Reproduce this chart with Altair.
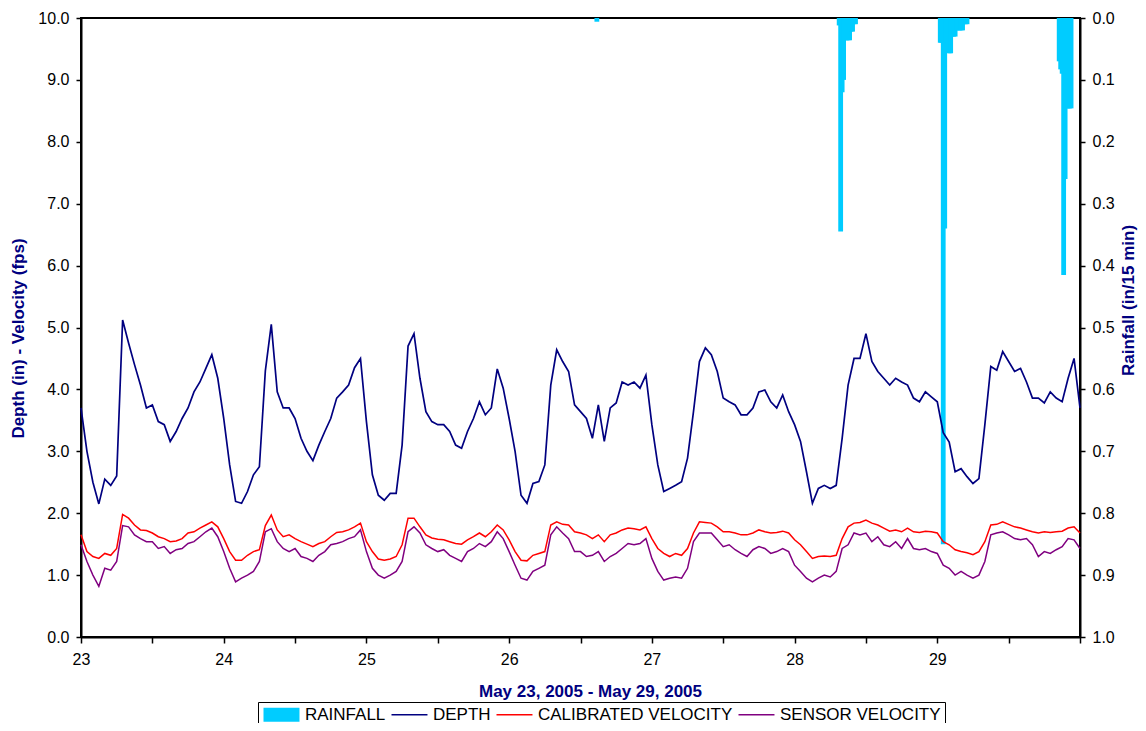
import altair as alt
import pandas as pd

# ---------------- data ----------------
hours = list(range(169))  # hourly, from May 23 00:00 to May 30 00:00

depth = [
    3.70, 3.00, 2.50, 2.15, 2.55, 2.45, 2.60, 5.12, 4.75, 4.40, 4.07, 3.70, 3.75, 3.48, 3.43, 3.16, 3.32, 3.53, 3.70, 3.96, 4.12, 4.34, 4.56, 4.18,
    3.53, 2.78, 2.19, 2.16, 2.35, 2.62, 2.75, 4.30, 5.05, 3.96, 3.70, 3.70, 3.53, 3.21, 3.00, 2.85, 3.10, 3.32, 3.53, 3.86, 3.96, 4.07, 4.35, 4.50,
    3.48, 2.62, 2.29, 2.21, 2.32, 2.32, 3.10, 4.70, 4.90, 4.18, 3.64, 3.48, 3.43, 3.43, 3.32, 3.10, 3.05, 3.32, 3.53, 3.80, 3.59, 3.70, 4.33, 4.02,
    3.53, 3.00, 2.29, 2.16, 2.48, 2.51, 2.78, 4.07, 4.64, 4.45, 4.29, 3.75, 3.64, 3.53, 3.21, 3.75, 3.16, 3.70, 3.78, 4.12, 4.07, 4.12, 4.02, 4.23,
    3.43, 2.78, 2.35, 2.40, 2.45, 2.51, 2.89, 3.64, 4.45, 4.67, 4.56, 4.29, 3.86, 3.80, 3.75, 3.59, 3.59, 3.70, 3.96, 3.99, 3.80, 3.70, 3.91, 3.64,
    3.43, 3.16, 2.67, 2.16, 2.40, 2.45, 2.40, 2.45, 3.21, 4.07, 4.50, 4.50, 4.90, 4.45, 4.29, 4.18, 4.07, 4.18, 4.12, 4.07, 3.86, 3.80, 3.96, 3.88,
    3.80, 3.30, 3.15, 2.67, 2.72, 2.59, 2.48, 2.56, 3.43, 4.37, 4.31, 4.61, 4.45, 4.29, 4.34, 4.12, 3.86, 3.86, 3.78, 3.96, 3.86, 3.80, 4.18, 4.50,
    3.70,
]

calibrated = [
    1.65, 1.38, 1.30, 1.27, 1.35, 1.32, 1.43, 1.98, 1.92, 1.81, 1.73, 1.72, 1.68, 1.62, 1.59, 1.54, 1.55, 1.59, 1.68, 1.70, 1.76, 1.81, 1.86, 1.78,
    1.59, 1.38, 1.24, 1.24, 1.32, 1.38, 1.41, 1.80, 1.97, 1.73, 1.62, 1.65, 1.59, 1.54, 1.50, 1.46, 1.51, 1.54, 1.62, 1.69, 1.70, 1.73, 1.78, 1.84,
    1.54, 1.38, 1.26, 1.24, 1.26, 1.30, 1.49, 1.92, 1.92, 1.78, 1.65, 1.60, 1.58, 1.57, 1.54, 1.51, 1.50, 1.57, 1.62, 1.68, 1.62, 1.70, 1.81, 1.73,
    1.57, 1.38, 1.24, 1.23, 1.32, 1.35, 1.38, 1.81, 1.86, 1.82, 1.81, 1.70, 1.68, 1.65, 1.59, 1.65, 1.54, 1.65, 1.68, 1.73, 1.76, 1.75, 1.73, 1.78,
    1.59, 1.43, 1.35, 1.30, 1.35, 1.32, 1.43, 1.68, 1.86, 1.85, 1.84, 1.78, 1.70, 1.70, 1.68, 1.65, 1.65, 1.68, 1.73, 1.70, 1.68, 1.69, 1.71, 1.68,
    1.57, 1.49, 1.38, 1.27, 1.30, 1.31, 1.30, 1.32, 1.59, 1.78, 1.84, 1.85, 1.89, 1.84, 1.81, 1.76, 1.71, 1.73, 1.70, 1.76, 1.70, 1.69, 1.71, 1.70,
    1.68, 1.54, 1.49, 1.41, 1.38, 1.36, 1.33, 1.38, 1.54, 1.81, 1.82, 1.86, 1.82, 1.78, 1.76, 1.73, 1.70, 1.68, 1.70, 1.69, 1.70, 1.71, 1.76, 1.78,
    1.68,
]

sensor = [
    1.49, 1.22, 1.00, 0.82, 1.11, 1.08, 1.22, 1.80, 1.78, 1.65, 1.59, 1.54, 1.54, 1.43, 1.46, 1.35, 1.41, 1.43, 1.51, 1.54, 1.62, 1.70, 1.76, 1.62,
    1.38, 1.11, 0.89, 0.95, 1.00, 1.06, 1.22, 1.70, 1.75, 1.54, 1.43, 1.38, 1.43, 1.30, 1.27, 1.22, 1.32, 1.38, 1.49, 1.51, 1.54, 1.59, 1.62, 1.73,
    1.38, 1.11, 1.00, 0.95, 1.00, 1.06, 1.22, 1.70, 1.78, 1.68, 1.49, 1.43, 1.38, 1.41, 1.32, 1.27, 1.22, 1.38, 1.43, 1.51, 1.46, 1.54, 1.70, 1.59,
    1.38, 1.16, 0.95, 0.92, 1.06, 1.11, 1.16, 1.65, 1.78, 1.68, 1.59, 1.38, 1.38, 1.30, 1.32, 1.38, 1.22, 1.30, 1.35, 1.43, 1.51, 1.49, 1.51, 1.59,
    1.27, 1.06, 0.92, 0.95, 0.97, 0.95, 1.11, 1.54, 1.68, 1.68, 1.68, 1.57, 1.46, 1.49, 1.41, 1.35, 1.30, 1.41, 1.46, 1.43, 1.35, 1.38, 1.43, 1.38,
    1.16, 1.06, 0.95, 0.89, 0.95, 1.00, 0.97, 1.06, 1.43, 1.49, 1.68, 1.65, 1.68, 1.54, 1.62, 1.49, 1.46, 1.54, 1.43, 1.59, 1.43, 1.41, 1.43, 1.38,
    1.35, 1.16, 1.11, 1.00, 1.06, 1.00, 0.95, 1.00, 1.22, 1.65, 1.68, 1.70, 1.65, 1.59, 1.57, 1.59, 1.49, 1.30, 1.38, 1.35, 1.41, 1.46, 1.59, 1.57,
    1.43,
]

# rainfall: hour since May 23 00:00 and inches per 15 min
rain_hour = [
    86.75,
    127.5, 127.75, 128.0, 128.25, 128.5, 128.75, 129.0, 129.25, 129.5, 129.75, 130.0, 130.25,
    144.5, 144.75, 145.0, 145.25, 145.5, 145.75, 146.0, 146.25, 146.5, 146.75, 147.0, 147.25,
    147.5, 147.75, 148.0, 148.25, 148.5, 148.75, 149.0,
    164.5, 164.75, 165.0, 165.25, 165.5, 165.75, 166.0, 166.25, 166.5,
]
rain_in = [
    0.006,
    0.012, 0.345, 0.12, 0.10, 0.036, 0.036, 0.036, 0.036, 0.022, 0.022, 0.010, 0.010,
    0.040, 0.040, 0.850, 0.340, 0.040, 0.040, 0.057, 0.057, 0.030, 0.030, 0.030, 0.020,
    0.020, 0.020, 0.020, 0.020, 0.010, 0.010, 0.010,
    0.070, 0.083, 0.090, 0.415, 0.260, 0.146, 0.146, 0.146, 0.146,
]

x_ticks = [23 + 0.5 * i for i in range(15)]
left_ticks = [float(i) for i in range(11)]
right_ticks = [round(0.1 * i, 1) for i in range(11)]

series = ["RAINFALL", "DEPTH", "CALIBRATED VELOCITY", "SENSOR VELOCITY"]
series_colors = ["#00CCFF", "#000080", "#FF0000", "#800080"]
# legend swatches: a 14px slot, drawn 36px wide towards the label
series_shapes = [
    "M-1,-1L4.14,-1L4.14,1L-1,1Z",
    "M-1,-0.1L4.14,-0.1L4.14,0.1L-1,0.1Z",
    "M-1,-0.1L4.14,-0.1L4.14,0.1L-1,0.1Z",
    "M-1,-0.1L4.14,-0.1L4.14,0.1L-1,0.1Z",
]

# ---------------- tables ----------------
lines_df = pd.DataFrame({
    "day": [23 + h / 24 for h in hours],
    "depth": depth,
    "cal": calibrated,
    "sensor": sensor,
})
rain_df = pd.DataFrame({"day": [23 + h / 24 for h in rain_hour], "rain": rain_in})
legend_df = pd.DataFrame({"series": series})

FONT = "Liberation Sans"
NAVY = "#000080"
TITLE_SIZE = 17

x_enc = alt.X(
    "day:Q",
    scale=alt.Scale(domain=[23, 30], nice=False, zero=False, padding=0),
    axis=alt.Axis(
        values=x_ticks,
        labelExpr="(datum.value % 1 == 0 && datum.value < 30) ? datum.value : ''",
        labelFlush=False,
        labelOverlap=False,
        labelFontSize=16,
        labelPadding=8,
        tickSize=6,
        title="May 23, 2005 - May 29, 2005",
        titleColor=NAVY,
        titleFontSize=TITLE_SIZE,
        titleFontWeight="bold",
        titlePadding=16,
        titleX=509,
    ),
)

left_axis = alt.Axis(
    orient="left",
    values=left_ticks,
    format=".1f",
    labelFontSize=16,
    labelPadding=7,
    tickSize=5,
    title="Depth (in) - Velocity (fps)",
    titleColor=NAVY,
    titleFontSize=TITLE_SIZE,
    titleFontWeight="bold",
    titlePadding=10,
    titleY=320,
)
left_scale = alt.Scale(domain=[0, 10], nice=False, zero=True)

rain = alt.Chart(rain_df).mark_bar(color="#00CCFF", size=4.8).encode(
    x=x_enc,
    y=alt.Y(
        "rain:Q",
        scale=alt.Scale(domain=[0, 1], reverse=True, nice=False, zero=True),
        axis=alt.Axis(
            orient="right",
            values=right_ticks,
            format=".1f",
            labelFontSize=16,
            labelPadding=7,
            tickSize=5,
            title="Rainfall (in/15 min)",
            titleAngle=270,
            titleAlign="center",
            titleBaseline="middle",
            titleX=48,
            titleY=282,
            titleColor=NAVY,
            titleFontSize=TITLE_SIZE,
            titleFontWeight="bold",
        ),
    ),
)

depth_line = alt.Chart(lines_df).mark_line(color=NAVY, strokeWidth=1.7).encode(
    x=x_enc, y=alt.Y("depth:Q", scale=left_scale, axis=left_axis)
)
cal_line = alt.Chart(lines_df).mark_line(color="#FF0000", strokeWidth=1.5).encode(
    x=x_enc, y=alt.Y("cal:Q", scale=left_scale, axis=left_axis)
)
sensor_line = alt.Chart(lines_df).mark_line(color="#800080", strokeWidth=1.5).encode(
    x=x_enc, y=alt.Y("sensor:Q", scale=left_scale, axis=left_axis)
)
lines = alt.layer(sensor_line, cal_line, depth_line)

legend_props = dict(
    orient="none",
    legendX=177,
    legendY=684,
    direction="horizontal",
    title=None,
    strokeColor="black",
    padding=4,
    labelFontSize=17,
    labelFont=FONT,
    labelColor="black",
    labelLimit=400,
    labelOffset=26,
    columnPadding=4,
    symbolSize=196,
    symbolStrokeWidth=0,
    symbolOpacity=1,
)

legend_layer = alt.Chart(legend_df).mark_point(filled=True, opacity=1).encode(
    color=alt.Color("series:N", scale=alt.Scale(domain=series, range=series_colors),
                    legend=alt.Legend(**legend_props)),
    shape=alt.Shape("series:N", scale=alt.Scale(domain=series, range=series_shapes),
                    legend=alt.Legend(**legend_props)),
).transform_filter("false")

chart = (
    alt.layer(rain, lines, legend_layer)
    .resolve_scale(y="independent")
    .properties(
        width=999,
        height=619,
        autosize=alt.AutoSizeParams(type="none"),
        padding={"left": 73, "top": 10, "right": 58, "bottom": 86},
    )
    .configure(font=FONT)
    .configure_view(stroke="black", strokeWidth=2)
    .configure_axis(
        grid=False,
        domainColor="black",
        domainWidth=2,
        tickColor="black",
        tickWidth=1.5,
        labelColor="black",
        labelFont=FONT,
        titleFont=FONT,
    )
)

chart.save("out.html", embed_options={"renderer": "svg", "actions": False})
